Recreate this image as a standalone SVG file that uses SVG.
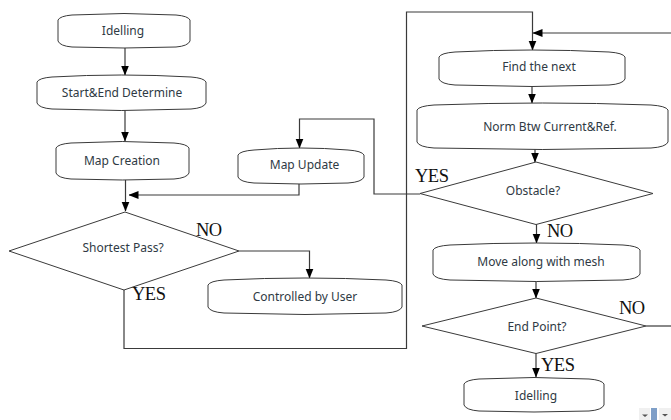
<svg xmlns="http://www.w3.org/2000/svg" width="671" height="420" viewBox="0 0 671 420">
<style>
.n{fill:#fff;stroke:#3a3a3a;stroke-width:1}
.c{fill:none;stroke:#3a3a3a;stroke-width:1.2}
.t{font-family:"Noto Sans",sans-serif;font-size:12px;fill:#2f3a44;text-anchor:middle}
.l{font-family:"Liberation Serif",serif;font-size:18.500px;letter-spacing:-0.500px;fill:#111}
</style>
<defs>
<marker id="a" markerUnits="userSpaceOnUse" markerWidth="10" markerHeight="10" refX="9.500" refY="4" orient="auto"><path d="M0 0L10 4L0 8Z" fill="#000"/></marker>
</defs>
<rect width="671" height="420" fill="#fff"/>
<g id="connectors">
<path class="c" marker-end="url(#a)" d="M125 48V75"/>
<path class="c" marker-end="url(#a)" d="M125 110V141"/>
<path class="c" marker-end="url(#a)" d="M125.500 180V211"/>
<path class="c" marker-end="url(#a)" d="M299 184V195H129"/>
<path class="c" marker-end="url(#a)" d="M420 194H374V119H299.500V148"/>
<path class="c" marker-end="url(#a)" d="M239 251H309.500V278"/>
<path class="c" marker-end="url(#a)" d="M124 290V348.500H406.500V12H532.500V50"/>
<path class="c" marker-end="url(#a)" d="M671 33H533"/>
<path class="c" marker-end="url(#a)" d="M532 86V103"/>
<path class="c" marker-end="url(#a)" d="M535 149V162"/>
<path class="c" marker-end="url(#a)" d="M536.500 224V243"/>
<path class="c" marker-end="url(#a)" d="M536 281V298"/>
<path class="c" d="M646 326H671"/>
<path class="c" marker-end="url(#a)" d="M536 353V377"/>
</g>
<g id="idle1"><path class="n" d="M58 20Q60 16 72 15Q124 12 176 15Q188 16 190 20V41Q188 46 176 47Q124 49 72 47Q60 46 58 41Z"/><text class="t" x="123" y="34.500">Idelling</text></g>
<g id="startend"><path class="n" d="M37 82Q39 78 52 77Q121 73 191 77Q204 78 206 82V103Q204 108 191 109Q121 112 52 109Q39 108 37 103Z"/><text class="t" x="122" y="96.500">Start&amp;End Determine</text></g>
<g id="mapcreation"><path class="n" d="M56 148Q58 144 71 143Q122 140 174 143Q187 144 189 148V173Q187 178 174 179Q122 181 71 179Q58 178 56 173Z"/><text class="t" x="122" y="165">Map Creation</text></g>
<g id="mapupdate"><path class="n" d="M238 155Q240 151 254 150Q301 146 348 150Q362 151 364 155V177Q362 182 348 183Q301 185 254 183Q240 182 238 177Z"/><text class="t" x="304.500" y="169">Map Update</text></g>
<g id="shortest"><path class="n" d="M125 212L239 251L124 290L9 251Z"/><text class="t" x="123" y="252">Shortest Pass?</text></g>
<g id="controlled"><path class="n" d="M208 285Q210 281 224 280Q305 276 386 280Q400 281 402 285V307Q400 312 386 313Q305 316 224 313Q210 312 208 307Z"/><text class="t" x="305" y="301">Controlled by User</text></g>
<g id="findnext"><path class="n" d="M439 57Q441 53 455 52Q532 48 609 52Q623 53 625 57V79Q623 84 609 85Q532 88 455 85Q441 84 439 79Z"/><text class="t" x="539" y="71">Find the next</text></g>
<g id="norm"><path class="n" d="M417 110Q419 106 434 105Q542 101 651 105Q666 106 668 110V142Q666 147 651 148Q542 151 434 148Q419 147 417 142Z"/><text class="t" x="550" y="131">Norm Btw Current&amp;Ref.</text></g>
<g id="obstacle"><path class="n" d="M536 162L653 193.500L536 224.500L420 193.500Z"/><text class="t" x="533" y="195">Obstacle?</text></g>
<g id="move"><path class="n" d="M433 250Q435 246 450 245Q536 241 623 245Q638 246 640 250V274Q638 279 623 280Q536 283 450 280Q435 279 433 274Z"/><text class="t" x="541" y="266">Move along with mesh</text></g>
<g id="endpoint"><path class="n" d="M536 298L646 326L536 353.500L422 326Z"/><text class="t" x="537" y="331">End Point?</text></g>
<g id="idle2"><path class="n" d="M464 384Q466 380 479 379Q534 376 589 379Q602 380 604 384V405Q602 410 589 411Q534 413 479 411Q466 410 464 405Z"/><text class="t" x="536" y="400">Idelling</text></g>
<g id="labels">
<text class="l" x="196" y="236">NO</text>
<text class="l" x="132" y="300">YES</text>
<text class="l" x="415" y="182">YES</text>
<text class="l" x="547" y="237">NO</text>
<text class="l" x="619" y="314">NO</text>
<text class="l" x="541" y="371">YES</text>
</g>
<g id="scroll-marks">
<rect x="639" y="408" width="11" height="12" fill="#f0f0f0"/><path d="M642 414.500H648L645 417Z" fill="#555"/>
<rect x="651" y="408" width="6" height="12" fill="#7f9fc8"/>
<rect x="659" y="408" width="12" height="12" fill="#f0f0f0"/><path d="M662 414H668L665 416.500Z" fill="#555"/>
</g>
</svg>
